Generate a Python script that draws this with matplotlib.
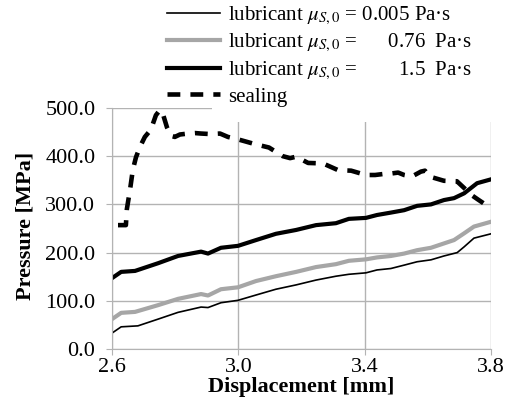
import matplotlib
matplotlib.use("Agg")
import matplotlib.pyplot as plt
from matplotlib.patches import Rectangle
from matplotlib.ticker import FormatStrFormatter

plt.rcParams['font.family'] = ['Liberation Serif', 'DejaVu Serif']
plt.rcParams['mathtext.fontset'] = 'stix'

# lubricant 0.005 Pa.s
x_thin = [2.600, 2.629, 2.682, 2.746, 2.809, 2.882, 2.904, 2.945, 2.999, 3.056,
          3.119, 3.183, 3.246, 3.309, 3.350, 3.404, 3.439, 3.483, 3.525, 3.566,
          3.610, 3.651, 3.693, 3.715, 3.746, 3.800]
p_thin = [33, 46, 48, 62, 76, 87, 86, 96, 101, 112,
          124, 133, 143, 151, 155, 158, 164, 167, 174, 181,
          185, 193, 200, 212, 230, 239]

# lubricant 0.76 Pa.s
x_gray = [2.600, 2.629, 2.673, 2.746, 2.809, 2.882, 2.904, 2.945, 2.999, 3.056,
          3.119, 3.183, 3.246, 3.309, 3.350, 3.404, 3.439, 3.483, 3.525, 3.566,
          3.610, 3.651, 3.683, 3.715, 3.746, 3.800]
p_gray = [62, 75, 77, 91, 104, 114, 111, 124, 128, 141,
          151, 160, 170, 176, 183, 186, 190, 193, 198, 205,
          210, 219, 226, 240, 254, 264]

# lubricant 1.5 Pa.s
x_thick = [2.600, 2.629, 2.673, 2.746, 2.809, 2.882, 2.904, 2.945, 2.999, 3.056,
           3.119, 3.183, 3.246, 3.309, 3.350, 3.404, 3.439, 3.483, 3.525, 3.566,
           3.610, 3.651, 3.683, 3.715, 3.756, 3.800]
p_thick = [147, 160, 162, 178, 193, 202, 198, 210, 214, 226,
           239, 247, 257, 261, 270, 272, 278, 283, 288, 297,
           300, 309, 313, 323, 344, 352]

# sealing
x_seal = [2.619, 2.644, 2.647, 2.657, 2.666, 2.676, 2.689, 2.704, 2.723, 2.739,
          2.752, 2.761, 2.774, 2.787, 2.799, 2.815, 2.841, 2.863, 2.882, 2.910,
          2.942, 2.967, 2.993, 3.015, 3.053, 3.097, 3.141, 3.164, 3.183, 3.221,
          3.268, 3.316, 3.357, 3.404, 3.433, 3.458, 3.483, 3.506, 3.525, 3.550,
          3.578, 3.591, 3.604, 3.651, 3.692, 3.715, 3.737, 3.759, 3.800]
p_seal = [257, 257, 290, 330, 372, 398, 420, 440, 455, 485,
          496, 488, 460, 442, 440, 445, 447, 448, 447, 446,
          447, 440, 436, 432, 425, 418, 400, 396, 399, 386,
          385, 371, 370, 361, 361, 363, 364, 366, 361, 358,
          368, 370, 358, 349, 348, 334, 320, 310, 292]

labels = ['lubricant $\\mu_{S,0}$ = 0.005 Pa·s',
          'lubricant $\\mu_{S,0}$ =      0.76  Pa·s',
          'lubricant $\\mu_{S,0}$ =        1.5  Pa·s',
          'sealing']

fig = plt.figure(figsize=(5.13, 4.12), dpi=100)
ax = fig.add_axes([112/513, 1 - 349/412, 379/513, 241/412])

l1, = ax.plot(x_thin, p_thin, color='black', lw=1.2)
l2, = ax.plot(x_gray, p_gray, color='#a6a6a6', lw=3)
l3, = ax.plot(x_thick, p_thick, color='black', lw=3)
l4, = ax.plot(x_seal, p_seal, color='black', lw=3.3, dashes=(2.8, 2.2))

ax.set_xlim(2.6, 3.8)
ax.set_ylim(0, 500)
ax.set_xticks([2.6, 3.0, 3.4, 3.8])
ax.set_yticks([0, 100, 200, 300, 400, 500])
ax.xaxis.set_major_formatter(FormatStrFormatter('%.1f'))
ax.yaxis.set_major_formatter(FormatStrFormatter('%.1f'))
ax.grid(True, color='#b3b3b3', lw=1)
ax.set_axisbelow(True)
for s in ['top', 'right']:
    ax.spines[s].set_visible(False)
for s in ['left', 'bottom']:
    ax.spines[s].set_color('#b3b3b3')
ax.tick_params(axis='y', direction='out', length=4, color='#b3b3b3', pad=8, labelsize=16)
ax.tick_params(axis='x', direction='out', length=4.5, color='#b3b3b3', pad=2, labelsize=16)

ax.set_xlabel('Displacement [mm]', fontsize=16, fontweight='bold')
ax.set_ylabel('Pressure [MPa]', fontsize=16, fontweight='bold')
ax.xaxis.set_label_coords(0.5, -0.115)
ax.yaxis.set_label_coords(-0.203, 0.51)

# white area behind the legend, hiding the top of the grid
ax.add_patch(Rectangle((0.264, 0.942), 0.75, 0.2, transform=ax.transAxes,
                       facecolor='white', edgecolor='none', clip_on=False, zorder=3))

fig.legend([l1, l2, l3, l4], labels, loc='upper left',
           bbox_to_anchor=(167/513, 1 - 5/412), frameon=False,
           fontsize=15, handlelength=2.55, handletextpad=0.4,
           labelspacing=0.25, borderpad=0, borderaxespad=0)

fig.savefig('out.png', dpi=100)
